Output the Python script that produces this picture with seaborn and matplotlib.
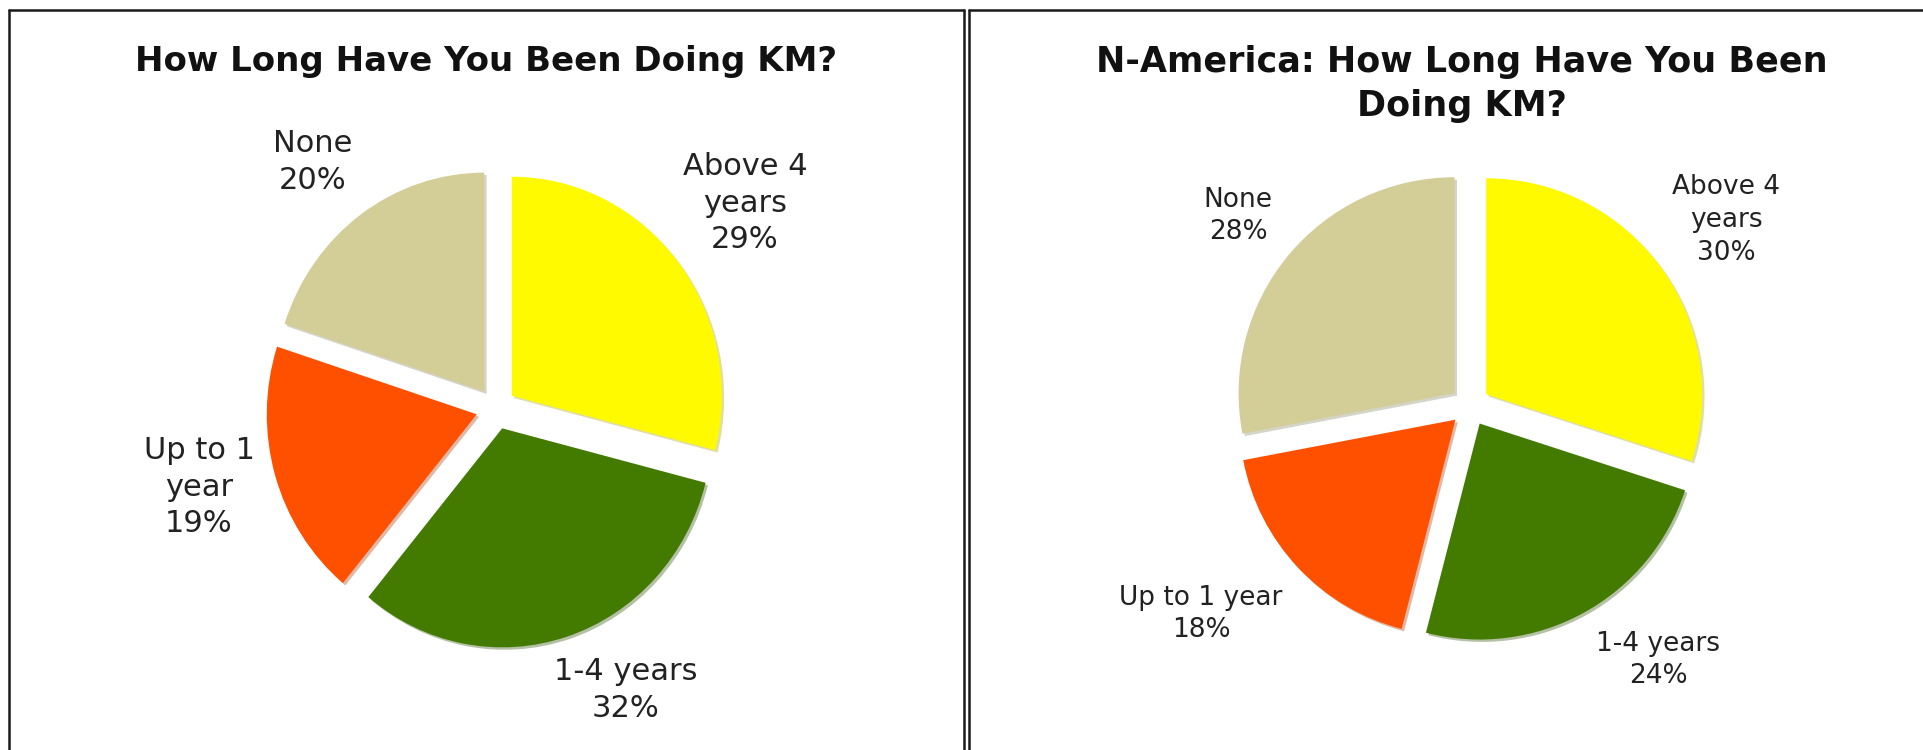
import matplotlib
matplotlib.use("Agg")
import matplotlib.pyplot as plt
from matplotlib.lines import Line2D
import seaborn as sns

# Survey answers, clockwise from twelve o'clock
categories = ["Above 4 years", "1-4 years", "Up to 1 year", "None"]
overall_pct = [29, 32, 19, 20]
namerica_pct = [30, 24, 18, 28]

# Label text (category part) for each panel
overall_names = ["Above 4\nyears", "1-4 years", "Up to 1\nyear", "None"]
namerica_names = ["Above 4\nyears", "1-4 years", "Up to 1 year", "None"]

titles = ["How Long Have You Been Doing KM?",
          "N-America: How Long Have You Been\nDoing KM?"]

slice_colors = ["#FFFA00", "#437A00", "#FF5000", "#D3CE98"]

sns.set_theme(style="white")
plt.rcParams["font.family"] = ["DejaVu Sans"]

W, H = 1924, 750
DPI = 100
fig = plt.figure(figsize=(W / DPI, H / DPI), dpi=DPI)
fig.patch.set_facecolor("white")


def fx(x):
    return x / W


def fy(y):
    return 1 - y / H


# Panel frames
line_kw = dict(color="#1a1a1a", linewidth=1.8, transform=fig.transFigure)
for x0, x1 in [(9, 964), (969, 1930)]:
    fig.add_artist(Line2D([fx(x0), fx(x1)], [fy(10), fy(10)], **line_kw))
    fig.add_artist(Line2D([fx(x0), fx(x0)], [fy(10), fy(760)], **line_kw))
    fig.add_artist(Line2D([fx(x1), fx(x1)], [fy(10), fy(760)], **line_kw))


def draw_pie(values, names, cx, cy, rx, ry, explode_px, title, tx, ty,
             title_size, label_pos, label_size, linesp):
    lim = 1.3
    wpx, hpx = 2 * lim * rx, 2 * lim * ry
    ax = fig.add_axes([fx(cx - wpx / 2), fy(cy + hpx / 2), wpx / W, hpx / H])
    ax.pie(values, colors=slice_colors, startangle=90, counterclock=False,
           explode=[explode_px / rx] * len(values),
           wedgeprops=dict(linewidth=0),
           shadow={"ox": 0.008, "oy": -0.008, "shade": 0.35, "alpha": 0.35})
    ax.set_aspect("auto")
    ax.set_xlim(-lim, lim)
    ax.set_ylim(-lim, lim)
    ax.axis("off")
    fig.text(fx(tx), fy(ty), title, ha="center", va="center",
             fontsize=title_size, fontweight="bold", color="#111111",
             linespacing=1.35)
    for name, val, (lx, ly) in zip(names, values, label_pos):
        fig.text(fx(lx), fy(ly), f"{name}\n{val}%", ha="center", va="center",
                 fontsize=label_size, color="#222222", linespacing=linesp,
                 multialignment="center")


draw_pie(overall_pct, overall_names, 496, 408.5, 210, 219, 20,
         titles[0], 486, 62, 24.5,
         [(745, 203), (626, 690), (199, 487), (313, 162)], 22, 1.33)

draw_pie(namerica_pct, namerica_names, 1470, 406, 216, 216, 20,
         titles[1], 1462, 84, 25.2,
         [(1726, 220), (1658, 660), (1201, 614), (1238, 216)], 19, 1.33)

fig.savefig("out.png", dpi=DPI, facecolor="white")
